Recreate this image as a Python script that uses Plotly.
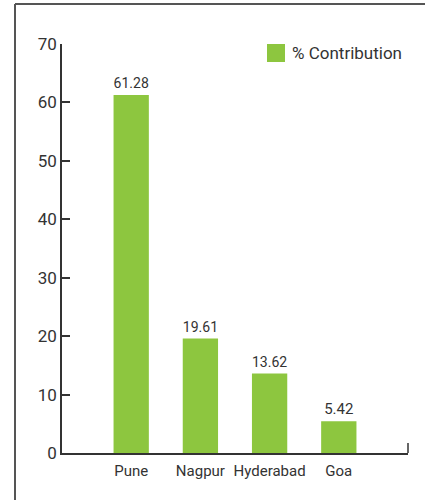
import plotly.graph_objects as go

categories = ["Pune", "Nagpur", "Hyderabad", "Goa"]
values = [61.28, 19.61, 13.62, 5.42]
value_labels = ["61.28", "19.61", "13.62", "5.42"]
series_name = "% Contribution"
y_ticks = [0, 10, 20, 30, 40, 50, 60, 70]

GREEN = "#8DC63F"
TEXT = "#333333"
FONT = "Roboto"

fig = go.Figure()
fig.add_trace(go.Bar(
    x=categories, y=values, name=series_name,
    marker=dict(color=GREEN, line=dict(width=0)),
    width=0.51,
    text=value_labels, textposition="outside", cliponaxis=False,
    textfont=dict(family=FONT, size=15, color=TEXT),
    showlegend=False,
))

W, H = 425, 500
L, R, T, B = 62, 17, 44, 47
pw, ph = W - L - R, H - T - B

def px_x(p):
    return (p - L) / pw

def px_y(p):
    return (H - B - p) / ph

shapes = [
    # frame: top and left lines
    dict(type="line", xref="paper", yref="paper", x0=px_x(15), x1=px_x(430), y0=px_y(4), y1=px_y(4),
         line=dict(color="#555555", width=2)),
    dict(type="line", xref="paper", yref="paper", x0=px_x(15), x1=px_x(15), y0=px_y(4), y1=px_y(505),
         line=dict(color="#555555", width=2)),
    # right end tick of x axis
    dict(type="line", xref="paper", yref="paper", x0=1, x1=1, y0=0, y1=px_y(443),
         line=dict(color=TEXT, width=1.5)),
    # legend swatch
    dict(type="rect", xref="paper", yref="paper", x0=px_x(267), x1=px_x(285), y0=px_y(62), y1=px_y(44),
         fillcolor=GREEN, line=dict(width=0)),
]

annotations = [
    dict(xref="paper", yref="paper", x=px_x(290), y=px_y(53), text=series_name, showarrow=False,
         xanchor="left", yanchor="middle", font=dict(family=FONT, size=17, color=TEXT)),
]

fig.update_layout(
    width=W, height=H,
    margin=dict(l=L, r=R, t=T, b=B),
    paper_bgcolor="white", plot_bgcolor="white",
    shapes=shapes, annotations=annotations,
    font=dict(family=FONT, color=TEXT),
)
fig.update_xaxes(
    range=[-1, 4], showline=True, linecolor=TEXT, linewidth=1.5, ticks="",
    showgrid=False, zeroline=False, ticklabelstandoff=3,
    tickfont=dict(family=FONT, size=15, color=TEXT),
)
fig.update_yaxes(
    range=[0, 70], tickvals=y_ticks, showline=True, linecolor=TEXT, linewidth=1.5,
    ticks="inside", ticklen=8, tickwidth=1.5, tickcolor=TEXT,
    showgrid=False, zeroline=False,
    tickfont=dict(family=FONT, size=17, color=TEXT),
)

fig.write_html(
    "out.html",
    config={"displayModeBar": False},
    post_script="document.body.style.margin='0px';document.body.style.overflow='hidden';",
)
